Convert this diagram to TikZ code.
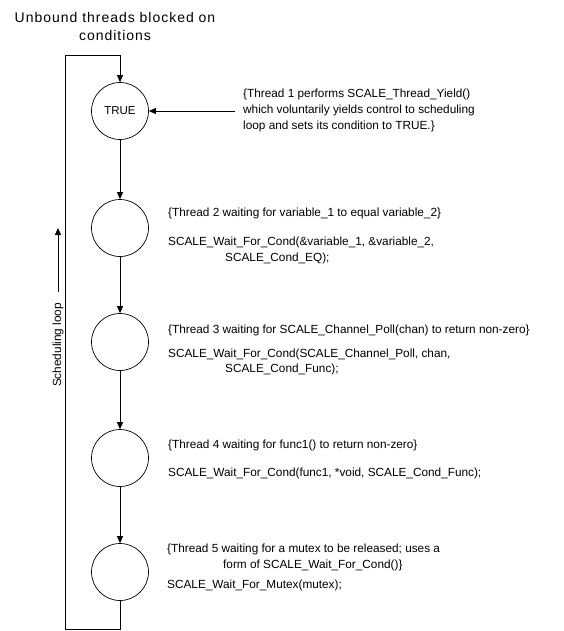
\documentclass[tikz,border=0pt]{standalone}
\usepackage{fontspec}
\setmainfont{Liberation Sans}
\newfontfamily\titlefont[LetterSpace=7]{Liberation Sans}
\usetikzlibrary{arrows.meta}
\begin{document}
\begin{tikzpicture}[x=1pt,y=-1pt,
  state/.style={circle,draw,line width=0.7pt,minimum size=57pt,inner sep=0pt,font=\fontsize{11.5}{13}\selectfont},
  note/.style={anchor=west,inner sep=0pt,font=\fontsize{11.8}{13}\selectfont},
  flow/.style={line width=0.7pt,-{Triangle[length=7pt,width=6pt]}},
  line/.style={line width=0.7pt}]
\useasboundingbox (0,0) rectangle (564,631);

% title
\node[font=\titlefont\fontsize{14}{18}\selectfont,align=center] (title) at (115,26) {Unbound threads blocked on\\conditions};

% condition states
\node[state] (s1) at (120,111) {TRUE};
\node[state] (s2) at (120,228) {};
\node[state] (s3) at (120,342) {};
\node[state] (s4) at (120,458) {};
\node[state] (s5) at (120,572) {};

% loop back path
\coordinate (top) at (120,55);
\coordinate (tl) at (65,55);
\coordinate (bl) at (65,629);
\coordinate (br) at (120,629);
\draw[flow] (s5.south) -- (br) -- (bl) -- (tl) -- (top) -- (s1.north);
\draw[flow] (s1) -- (s2);
\draw[flow] (s2) -- (s3);
\draw[flow] (s3) -- (s4);
\draw[flow] (s4) -- (s5);

% scheduling loop label
\coordinate (la) at (58,292);
\coordinate (lb) at (58,228);
\draw[flow] (la) -- (lb);
\node[rotate=90,inner sep=0pt,font=\fontsize{11.8}{13}\selectfont] (sched) at (58,345) {Scheduling loop};

% thread 1
\node[note] (t1a) at (243,94) {\{Thread 1 performs SCALE\_Thread\_Yield()};
\node[note] (t1b) at (243,110) {which voluntarily yields control to scheduling};
\node[note] (t1c) at (243,126) {loop and sets its condition to TRUE.\}};
\coordinate (yield) at (235,111);
\draw[flow] (yield) -- (s1.east);

% thread 2
\node[note] (t2a) at (168,213) {\{Thread 2 waiting for variable\_1 to equal variable\_2\}};
\node[note] (t2b) at (168,242) {SCALE\_Wait\_For\_Cond(\&variable\_1, \&variable\_2,};
\node[note] (t2c) at (225,258) {SCALE\_Cond\_EQ);};

% thread 3
\node[note] (t3a) at (168,330) {\{Thread 3 waiting for SCALE\_Channel\_Poll(chan) to return non-zero\}};
\node[note] (t3b) at (168,354) {SCALE\_Wait\_For\_Cond(SCALE\_Channel\_Poll, chan,};
\node[note] (t3c) at (225,369) {SCALE\_Cond\_Func);};

% thread 4
\node[note] (t4a) at (168,445) {\{Thread 4 waiting for func1() to return non-zero\}};
\node[note] (t4b) at (168,473) {SCALE\_Wait\_For\_Cond(func1, *void, SCALE\_Cond\_Func);};

% thread 5
\node[note] (t5a) at (167,549) {\{Thread 5 waiting for a mutex to be released; uses a};
\node[note] (t5b) at (223,565) {form of SCALE\_Wait\_For\_Cond()\}};
\node[note] (t5c) at (167,585) {SCALE\_Wait\_For\_Mutex(mutex);};
\end{tikzpicture}
\end{document}
